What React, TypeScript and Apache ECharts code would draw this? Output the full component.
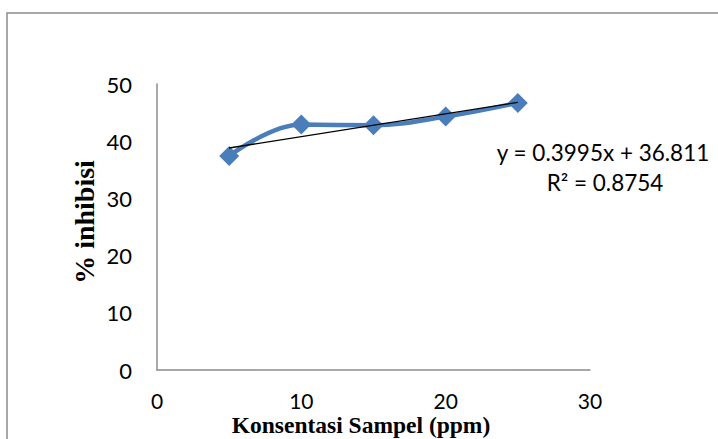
import React, { useEffect, useRef } from "react";
import * as echarts from "echarts";

const concentrations = [5, 10, 15, 20, 25];
const inhibition = [37.4, 42.9, 42.8, 44.3, 46.7];
const slope = 0.3995;
const intercept = 36.811;
const rSquared = "0.8754";
const trendRange = [5, 25];
const xTitle = "Konsentasi Sampel (ppm)";
const yTitle = "% inhibisi";

export default function App() {
  const ref = useRef<HTMLDivElement>(null);
  useEffect(() => {
    if (!ref.current) return;
    const chart = echarts.init(ref.current, null, { renderer: "svg" });
    const trend = trendRange.map((x) => [x, slope * x + intercept]);
    const sans = 'Lato, "Liberation Sans", sans-serif';
    chart.setOption({
      animation: false,
      grid: { left: 157, right: 128, top: 84, bottom: 69, outerBoundsMode: "none", containLabel: false },
      graphic: [
        {
          type: "rect",
          shape: { x: 7, y: 13, width: 760, height: 460 },
          style: { fill: "none", stroke: "#8c8c8c", lineWidth: 1.5 },
          silent: true,
        },
        {
          type: "text",
          x: 603,
          y: 152,
          style: {
            text: `y = ${slope}x + ${intercept}`,
            font: `22.5px ${sans}`,
            fill: "#000",
            align: "center",
            verticalAlign: "middle",
          },
        },
        {
          type: "text",
          x: 605,
          y: 182,
          style: {
            text: `R² = ${rSquared}`,
            font: `22.5px ${sans}`,
            fill: "#000",
            align: "center",
            verticalAlign: "middle",
          },
        },
        {
          type: "text",
          x: 361,
          y: 425,
          style: {
            text: xTitle,
            font: 'bold 23.5px "Liberation Serif", serif',
            fill: "#000",
            align: "center",
            verticalAlign: "middle",
          },
        },
        {
          type: "text",
          x: 84,
          y: 222,
          rotation: Math.PI / 2,
          style: {
            text: yTitle,
            font: 'bold 28px "Liberation Serif", serif',
            fill: "#000",
            align: "center",
            verticalAlign: "middle",
          },
        },
      ],
      xAxis: {
        type: "value",
        min: 0,
        max: 30,
        interval: 10,
        axisLine: { show: true, lineStyle: { color: "#8c8c8c", width: 1.5 } },
        axisTick: { show: false },
        splitLine: { show: false },
        axisLabel: { margin: 20, fontFamily: sans, fontSize: 21, color: "#000" },
      },
      yAxis: {
        type: "value",
        min: 0,
        max: 50,
        interval: 10,
        axisLine: { show: true, lineStyle: { color: "#8c8c8c", width: 1.5 } },
        axisTick: { show: false },
        splitLine: { show: false },
        axisLabel: { margin: 25, fontFamily: sans, fontSize: 22, color: "#000" },
      },
      series: [
        {
          type: "line",
          data: concentrations.map((x, i) => [x, inhibition[i]]),
          smooth: 0.4,
          symbol: "diamond",
          symbolSize: 20,
          lineStyle: { color: "#4a7ebb", width: 4.5 },
          itemStyle: { color: "#4a7ebb" },
          z: 2,
        },
        {
          type: "line",
          data: trend,
          symbol: "none",
          lineStyle: { color: "#000", width: 1.3 },
          z: 3,
        },
      ],
    });
    return () => chart.dispose();
  }, []);
  return <div ref={ref} style={{ width: 718, height: 439, position: "absolute", left: 0, top: 0 }} />;
}
